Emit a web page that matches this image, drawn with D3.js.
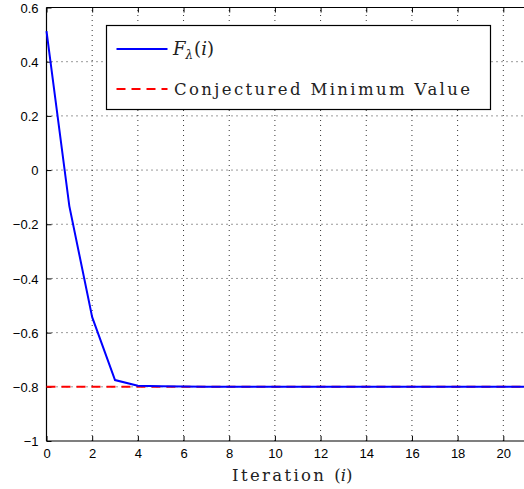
<!DOCTYPE html>
<html>
<head>
<meta charset="utf-8">
<script src="https://cdn.jsdelivr.net/npm/d3@7"></script>
<style>
    body { margin: 0; background: #fff; }
    .tick text { font-family: "Liberation Sans", Arial, sans-serif; font-size: 13px; fill: #000; }
    .grid line { stroke: #000; stroke-width: 0.8; stroke-dasharray: 1, 4; }
    .serif { font-family: "DejaVu Serif", "Liberation Serif", serif; fill: #222; }
</style>
</head>
<body>
<div id="chart"></div>
<script>
// data
const iterations = [0, 1, 2, 3, 4, 5, 6, 7, 8, 9, 10, 11, 12, 13, 14, 15, 16, 17, 18, 19, 20, 21];
const fValues = [0.513, -0.133, -0.543, -0.775, -0.796, -0.798, -0.799, -0.8, -0.8, -0.8, -0.8,
                 -0.8, -0.8, -0.8, -0.8, -0.8, -0.8, -0.8, -0.8, -0.8, -0.8, -0.8];
const conjectured = -0.8;
const xTicks = [0, 2, 4, 6, 8, 10, 12, 14, 16, 18, 20];
const yTicks = [-1, -0.8, -0.6, -0.4, -0.2, 0, 0.2, 0.4, 0.6];
const legendLabels = ["Conjectured Minimum Value"];

const width = 524, height = 489;
const margin = { top: 7.5, left: 46.5 };

const svg = d3.select("#chart").append("svg")
    .attr("width", width)
    .attr("height", height);

const x = d3.scaleLinear().domain([0, 20]).range([margin.left, 503.3]);
const y = d3.scaleLinear().domain([-1, 0.6]).range([441, margin.top]);
const xMax = x(21);

// grid lines
const grid = svg.append("g").attr("class", "grid");
grid.selectAll("line.v")
    .data(xTicks.slice(1))
    .enter().append("line")
    .attr("x1", d => x(d)).attr("x2", d => x(d))
    .attr("y1", y(-1)).attr("y2", y(0.6));
grid.selectAll("line.h")
    .data(yTicks.slice(1, -1))
    .enter().append("line")
    .attr("x1", x(0)).attr("x2", xMax)
    .attr("y1", d => y(d)).attr("y2", d => y(d));

// axes (ticks pointing inside)
const xAxis = d3.axisBottom(x).tickValues(xTicks).tickSizeInner(-5).tickSizeOuter(0).tickPadding(8);
const yAxis = d3.axisLeft(y).tickValues(yTicks).tickSizeInner(-5).tickSizeOuter(0).tickPadding(8)
    .tickFormat(d => d === 0 ? "0" : d3.format("")(d).replace("-", "\u2212"));

const gx = svg.append("g").attr("transform", `translate(0,${y(-1)})`).call(xAxis);
const gy = svg.append("g").attr("transform", `translate(${x(0)},0)`).call(yAxis);
const gxTop = svg.append("g").attr("transform", `translate(0,${y(0.6)})`)
    .call(d3.axisTop(x).tickValues(xTicks).tickSizeInner(-5).tickSizeOuter(0).tickFormat(""));
[gx, gy, gxTop].forEach(g => {
    g.select(".domain").remove();
    g.selectAll(".tick line").attr("stroke", "#000").attr("stroke-width", 1);
});
gy.selectAll(".tick text").attr("dy", "0.36em");

// box lines
svg.append("line").attr("x1", x(0)).attr("x2", xMax).attr("y1", y(-1)).attr("y2", y(-1))
    .attr("stroke", "#000").attr("stroke-width", 1.2);
svg.append("line").attr("x1", x(0)).attr("x2", xMax).attr("y1", y(0.6)).attr("y2", y(0.6))
    .attr("stroke", "#000").attr("stroke-width", 1.2);
svg.append("line").attr("x1", x(0)).attr("x2", x(0)).attr("y1", y(-1)).attr("y2", y(0.6))
    .attr("stroke", "#000").attr("stroke-width", 1.2);

// conjectured minimum (red dashed)
svg.append("line")
    .attr("x1", x(0)).attr("x2", xMax)
    .attr("y1", y(conjectured)).attr("y2", y(conjectured))
    .attr("stroke", "#ff0000").attr("stroke-width", 2)
    .attr("stroke-dasharray", "9, 6");

// F_lambda(i) line
const line = d3.line().x((d, i) => x(iterations[i])).y(d => y(d));
svg.append("path")
    .datum(fValues)
    .attr("fill", "none")
    .attr("stroke", "#0000ff")
    .attr("stroke-width", 2)
    .attr("d", line);

// legend
const lg = svg.append("g");
lg.append("rect")
    .attr("x", 106.5).attr("y", 25.5)
    .attr("width", 384).attr("height", 84)
    .attr("fill", "#fff").attr("stroke", "#000").attr("stroke-width", 1.2);
lg.append("line")
    .attr("x1", 116.5).attr("x2", 167.5).attr("y1", 49).attr("y2", 49)
    .attr("stroke", "#0000ff").attr("stroke-width", 2);
lg.append("line")
    .attr("x1", 116.5).attr("x2", 167.5).attr("y1", 89).attr("y2", 89)
    .attr("stroke", "#ff0000").attr("stroke-width", 2)
    .attr("stroke-dasharray", "9, 6");

const fLabel = lg.append("text").attr("class", "serif")
    .attr("x", 173).attr("y", 55)
    .style("font-size", "18px");
fLabel.append("tspan").style("font-style", "italic").text("F");
fLabel.append("tspan").style("font-style", "italic").style("font-size", "12px")
    .attr("dy", 4).text("\u03bb");
fLabel.append("tspan").attr("dy", -4).attr("dx", 1).text("(");
fLabel.append("tspan").style("font-style", "italic").text("i");
fLabel.append("tspan").text(")");

lg.append("text").attr("class", "serif")
    .attr("x", 174).attr("y", 95)
    .style("font-size", "16.5px")
    .attr("textLength", 296).attr("lengthAdjust", "spacing")
    .text(legendLabels[0]);

// x label
const xl = svg.append("text").attr("class", "serif")
    .attr("x", 232).attr("y", 481)
    .style("font-size", "16.5px");
xl.append("tspan").attr("textLength", 92).attr("lengthAdjust", "spacing").text("Iteration");
xl.append("tspan").attr("dx", 8).text("(");
xl.append("tspan").style("font-style", "italic").text("i");
xl.append("tspan").text(")");
</script>
</body>
</html>
